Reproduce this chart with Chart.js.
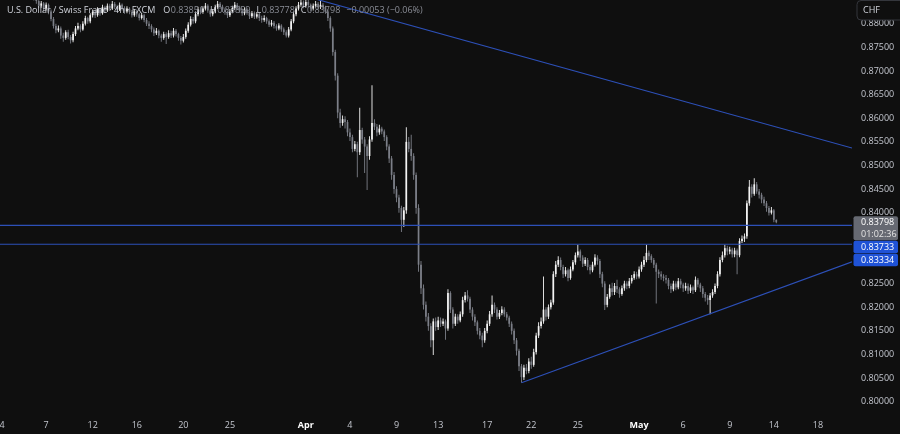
<!DOCTYPE html>
<html><head><meta charset="utf-8">
<script src="https://cdn.jsdelivr.net/npm/chart.js@4.4.1/dist/chart.umd.min.js"></script>
<style>html,body{margin:0;padding:0;background:#0f0f0f;overflow:hidden}canvas{display:block}</style>
</head><body>
<canvas id="c" width="900" height="434"></canvas>
<script>
// ---- data (USD/CHF 4h candles, index = candle number) ----
const opens = [
0.8928,0.8920,0.8912,0.8905,0.8898,0.8902,0.8893,0.8885,0.8890,0.8880,
0.8872,0.8868,0.8875,0.8862,0.8855,0.8848,0.8838,0.8843,0.8832,0.8840,
0.8826,0.8810,0.8795,0.8786,0.8790,0.8775,0.8770,0.8782,0.8772,0.8765,
0.8778,0.8790,0.8795,0.8788,0.8800,0.8812,0.8805,0.8818,0.8825,0.8818,
0.8830,0.8822,0.8835,0.8828,0.8838,0.8832,0.8842,0.8836,0.8830,0.8840,
0.8833,0.8826,0.8832,0.8825,0.8818,0.8826,0.8820,0.8812,0.8818,0.8808,
0.8800,0.8795,0.8788,0.8780,0.8785,0.8775,0.8770,0.8778,0.8772,0.8780,
0.8775,0.8785,0.8778,0.8770,0.8764,0.8772,0.8785,0.8798,0.8810,0.8805,
0.8820,0.8830,0.8825,0.8832,0.8838,0.8828,0.8820,0.8826,0.8835,0.8842,
0.8836,0.8830,0.8825,0.8818,0.8826,0.8833,0.8840,0.8834,0.8828,0.8822,
0.8830,0.8824,0.8816,0.8822,0.8815,0.8820,0.8812,0.8808,0.8812,0.8805,
0.8798,0.8802,0.8795,0.8790,0.8796,0.8788,0.8782,0.8775,0.8788,0.8805,
0.8820,0.8832,0.8840,0.8845,0.8838,0.8846,0.8840,0.8832,0.8838,0.8842,
0.8835,0.8840,0.8835,0.8826,0.8812,0.8790,0.8740,0.8690,0.8612,0.8590,
0.8598,0.8592,0.8570,0.8560,0.8535,0.8545,0.8528,0.8575,0.8555,0.8540,
0.8520,0.8555,0.8590,0.8582,0.8570,0.8578,0.8572,0.8560,0.8540,0.8515,
0.8480,0.8450,0.8432,0.8410,0.8385,0.8405,0.8550,0.8535,0.8520,0.8480,
0.8410,0.8290,0.8240,0.8205,0.8180,0.8160,0.8130,0.8170,0.8158,0.8172,
0.8165,0.8170,0.8155,0.8230,0.8195,0.8165,0.8180,0.8172,0.8185,0.8215,
0.8225,0.8218,0.8195,0.8180,0.8168,0.8150,0.8140,0.8130,0.8150,0.8165,
0.8185,0.8205,0.8195,0.8180,0.8188,0.8195,0.8185,0.8178,0.8165,0.8150,
0.8130,0.8108,0.8075,0.8052,0.8072,0.8065,0.8085,0.8078,0.8105,0.8140,
0.8160,0.8170,0.8195,0.8180,0.8200,0.8210,0.8270,0.8290,0.8300,0.8285,
0.8270,0.8278,0.8262,0.8280,0.8295,0.8310,0.8318,0.8305,0.8292,0.8300,
0.8285,0.8278,0.8290,0.8305,0.8298,0.8270,0.8250,0.8205,0.8222,0.8240,
0.8232,0.8245,0.8238,0.8228,0.8240,0.8250,0.8245,0.8255,0.8262,0.8270,
0.8265,0.8280,0.8290,0.8300,0.8315,0.8308,0.8300,0.8290,0.8275,0.8270,
0.8265,0.8262,0.8258,0.8245,0.8238,0.8250,0.8242,0.8255,0.8248,0.8240,
0.8245,0.8235,0.8242,0.8236,0.8258,0.8248,0.8240,0.8228,0.8220,0.8215,
0.8225,0.8232,0.8245,0.8270,0.8300,0.8310,0.8325,0.8318,0.8322,0.8312,
0.8320,0.8310,0.8340,0.8345,0.8350,0.8420,0.8455,0.8440,0.8460,0.8445,
0.8438,0.8428,0.8420,0.8410,0.8400,0.8405,0.83851
];
const highs = [
0.8934,0.8925,0.8916,0.8910,0.8908,0.8905,0.8897,0.8895,0.8893,0.8884,
0.8878,0.8880,0.8878,0.8866,0.8860,0.8851,0.8848,0.8846,0.8845,0.8843,
0.8830,0.8814,0.8800,0.8796,0.8794,0.8781,0.8786,0.8787,0.8776,0.8783,
0.8795,0.8802,0.8799,0.8805,0.8817,0.8815,0.8822,0.8830,0.8829,0.8835,
0.8833,0.8840,0.8838,0.8843,0.8842,0.8848,0.8846,0.8840,0.8845,0.8843,
0.8837,0.8837,0.8835,0.8829,0.8831,0.8830,0.8823,0.8823,0.8821,0.8812,
0.8805,0.8799,0.8792,0.8791,0.8788,0.8779,0.8783,0.8782,0.8786,0.8785,
0.8791,0.8789,0.8781,0.8774,0.8778,0.8790,0.8803,0.8816,0.8814,0.8826,
0.8836,0.8834,0.8837,0.8844,0.8841,0.8831,0.8831,0.8840,0.8848,0.8846,
0.8840,0.8834,0.8828,0.8831,0.8838,0.8846,0.8844,0.8838,0.8832,0.8835,
0.8834,0.8827,0.8827,0.8826,0.8825,0.8823,0.8817,0.8818,0.8815,0.8809,
0.8808,0.8806,0.8799,0.8801,0.8799,0.8792,0.8786,0.8793,0.8810,0.8826,
0.8837,0.8846,0.8852,0.8849,0.8851,0.8850,0.8843,0.8843,0.8848,0.8846,
0.8849,0.8844,0.8838,0.8830,0.8816,0.8794,0.8745,0.8695,0.8620,0.8606,
0.8604,0.8596,0.8578,0.8565,0.8552,0.8550,0.8622,0.8580,0.8560,0.8545,
0.8562,0.8670,0.8598,0.8588,0.8586,0.8582,0.8576,0.8564,0.8545,0.8520,
0.8486,0.8456,0.8438,0.8415,0.8412,0.8581,0.8560,0.8565,0.8526,0.8485,
0.8418,0.8298,0.8248,0.8212,0.8188,0.8166,0.8176,0.8178,0.8180,0.8178,
0.8176,0.8174,0.8238,0.8234,0.8200,0.8186,0.8185,0.8191,0.8222,0.8232,
0.8236,0.8222,0.8200,0.8185,0.8172,0.8156,0.8146,0.8156,0.8172,0.8192,
0.8225,0.8210,0.8200,0.8194,0.8202,0.8200,0.8190,0.8182,0.8170,0.8155,
0.8135,0.8112,0.8080,0.8078,0.8080,0.8092,0.8095,0.8112,0.8146,0.8168,
0.8178,0.8265,0.8200,0.8206,0.8216,0.8276,0.8298,0.8308,0.8305,0.8290,
0.8285,0.8282,0.8286,0.8300,0.8316,0.8332,0.8322,0.8310,0.8306,0.8304,
0.8290,0.8296,0.8312,0.8310,0.8302,0.8275,0.8255,0.8228,0.8248,0.8252,
0.8251,0.8258,0.8242,0.8246,0.8256,0.8255,0.8262,0.8268,0.8276,0.8275,
0.8286,0.8296,0.8308,0.8332,0.8320,0.8312,0.8304,0.8294,0.8280,0.8276,
0.8270,0.8268,0.8262,0.8250,0.8256,0.8255,0.8262,0.8260,0.8252,0.8252,
0.8250,0.8248,0.8246,0.8265,0.8262,0.8252,0.8245,0.8232,0.8226,0.8230,
0.8238,0.8250,0.8276,0.8306,0.8318,0.8332,0.8330,0.8328,0.8326,0.8326,
0.8324,0.8346,0.8352,0.8356,0.8426,0.8469,0.8460,0.8473,0.8465,0.8450,
0.8442,0.8434,0.8425,0.8414,0.8412,0.8408,0.83859
];
const lows = [
0.8914,0.8906,0.8899,0.8893,0.8894,0.8887,0.8879,0.8881,0.8874,0.8866,
0.8862,0.8864,0.8857,0.8849,0.8842,0.8833,0.8834,0.8826,0.8828,0.8820,
0.8805,0.8790,0.8780,0.8782,0.8768,0.8762,0.8766,0.8767,0.8758,0.8761,
0.8774,0.8786,0.8782,0.8785,0.8796,0.8800,0.8801,0.8813,0.8812,0.8815,
0.8817,0.8819,0.8823,0.8825,0.8827,0.8829,0.8831,0.8825,0.8827,0.8828,
0.8821,0.8822,0.8820,0.8813,0.8815,0.8815,0.8807,0.8809,0.8803,0.8795,
0.8789,0.8782,0.8774,0.8776,0.8769,0.8762,0.8766,0.8757,0.8768,0.8770,
0.8771,0.8773,0.8764,0.8756,0.8760,0.8768,0.8781,0.8794,0.8800,0.8801,
0.8816,0.8820,0.8821,0.8828,0.8823,0.8815,0.8816,0.8822,0.8831,0.8831,
0.8825,0.8819,0.8812,0.8814,0.8822,0.8829,0.8829,0.8823,0.8817,0.8818,
0.8819,0.8810,0.8812,0.8810,0.8811,0.8806,0.8802,0.8804,0.8800,0.8793,
0.8794,0.8790,0.8785,0.8786,0.8783,0.8776,0.8771,0.8771,0.8784,0.8801,
0.8816,0.8828,0.8836,0.8833,0.8834,0.8835,0.8827,0.8828,0.8834,0.8830,
0.8831,0.8830,0.8821,0.8806,0.8783,0.8732,0.8680,0.8600,0.8580,0.8584,
0.8578,0.8562,0.8552,0.8528,0.8530,0.8475,0.8522,0.8546,0.8484,0.8448,
0.8512,0.8550,0.8575,0.8562,0.8565,0.8566,0.8552,0.8532,0.8505,0.8470,
0.8440,0.8422,0.8400,0.8359,0.8370,0.8398,0.8528,0.8510,0.8470,0.8398,
0.8275,0.8228,0.8195,0.8170,0.8150,0.8115,0.8099,0.8150,0.8152,0.8158,
0.8160,0.8131,0.8150,0.8188,0.8155,0.8160,0.8165,0.8168,0.8180,0.8210,
0.8212,0.8188,0.8172,0.8160,0.8142,0.8132,0.8115,0.8125,0.8145,0.8160,
0.8180,0.8188,0.8174,0.8175,0.8183,0.8180,0.8172,0.8158,0.8142,0.8122,
0.8098,0.8065,0.8040,0.8046,0.8058,0.8060,0.8070,0.8074,0.8100,0.8135,
0.8155,0.8165,0.8172,0.8175,0.8195,0.8205,0.8264,0.8285,0.8278,0.8262,
0.8265,0.8255,0.8258,0.8276,0.8290,0.8305,0.8298,0.8285,0.8287,0.8278,
0.8270,0.8274,0.8286,0.8290,0.8262,0.8242,0.8194,0.8200,0.8218,0.8225,
0.8226,0.8230,0.8220,0.8224,0.8235,0.8238,0.8240,0.8250,0.8258,0.8259,
0.8261,0.8275,0.8285,0.8295,0.8300,0.8294,0.8283,0.8208,0.8262,0.8258,
0.8255,0.8250,0.8238,0.8230,0.8234,0.8236,0.8238,0.8240,0.8232,0.8235,
0.8228,0.8230,0.8228,0.8232,0.8242,0.8232,0.8220,0.8212,0.8205,0.8185,
0.8220,0.8228,0.8240,0.8265,0.8295,0.8305,0.8310,0.8312,0.8305,0.8306,
0.8270,0.8306,0.8336,0.8338,0.8345,0.8415,0.8432,0.8436,0.8440,0.8430,
0.8420,0.8414,0.8402,0.8394,0.8396,0.8380,0.83778
];
const closes = [
0.8920,0.8912,0.8905,0.8898,0.8902,0.8893,0.8885,0.8890,0.8880,0.8872,
0.8868,0.8875,0.8862,0.8855,0.8848,0.8838,0.8843,0.8832,0.8840,0.8826,
0.8810,0.8795,0.8786,0.8790,0.8775,0.8770,0.8782,0.8772,0.8765,0.8778,
0.8790,0.8795,0.8788,0.8800,0.8812,0.8805,0.8818,0.8825,0.8818,0.8830,
0.8822,0.8835,0.8828,0.8838,0.8832,0.8842,0.8836,0.8830,0.8840,0.8833,
0.8826,0.8832,0.8825,0.8818,0.8826,0.8820,0.8812,0.8818,0.8808,0.8800,
0.8795,0.8788,0.8780,0.8785,0.8775,0.8770,0.8778,0.8772,0.8780,0.8775,
0.8785,0.8778,0.8770,0.8764,0.8772,0.8785,0.8798,0.8810,0.8805,0.8820,
0.8830,0.8825,0.8832,0.8838,0.8828,0.8820,0.8826,0.8835,0.8842,0.8836,
0.8830,0.8825,0.8818,0.8826,0.8833,0.8840,0.8834,0.8828,0.8822,0.8830,
0.8824,0.8816,0.8822,0.8815,0.8820,0.8812,0.8808,0.8812,0.8805,0.8798,
0.8802,0.8795,0.8790,0.8796,0.8788,0.8782,0.8775,0.8788,0.8805,0.8820,
0.8832,0.8840,0.8845,0.8838,0.8846,0.8840,0.8832,0.8838,0.8842,0.8835,
0.8840,0.8835,0.8826,0.8812,0.8790,0.8740,0.8690,0.8612,0.8590,0.8598,
0.8592,0.8570,0.8560,0.8535,0.8545,0.8528,0.8575,0.8555,0.8540,0.8520,
0.8555,0.8590,0.8582,0.8570,0.8578,0.8572,0.8560,0.8540,0.8515,0.8480,
0.8450,0.8432,0.8410,0.8385,0.8405,0.8550,0.8535,0.8520,0.8480,0.8410,
0.8290,0.8240,0.8205,0.8180,0.8160,0.8130,0.8170,0.8158,0.8172,0.8165,
0.8170,0.8155,0.8230,0.8195,0.8165,0.8180,0.8172,0.8185,0.8215,0.8225,
0.8218,0.8195,0.8180,0.8168,0.8150,0.8140,0.8130,0.8150,0.8165,0.8185,
0.8205,0.8195,0.8180,0.8188,0.8195,0.8185,0.8178,0.8165,0.8150,0.8130,
0.8108,0.8075,0.8052,0.8072,0.8065,0.8085,0.8078,0.8105,0.8140,0.8160,
0.8170,0.8195,0.8180,0.8200,0.8210,0.8270,0.8290,0.8300,0.8285,0.8270,
0.8278,0.8262,0.8280,0.8295,0.8310,0.8318,0.8305,0.8292,0.8300,0.8285,
0.8278,0.8290,0.8305,0.8298,0.8270,0.8250,0.8205,0.8222,0.8240,0.8232,
0.8245,0.8238,0.8228,0.8240,0.8250,0.8245,0.8255,0.8262,0.8270,0.8265,
0.8280,0.8290,0.8300,0.8315,0.8308,0.8300,0.8290,0.8275,0.8270,0.8265,
0.8262,0.8258,0.8245,0.8238,0.8250,0.8242,0.8255,0.8248,0.8240,0.8245,
0.8235,0.8242,0.8236,0.8258,0.8248,0.8240,0.8228,0.8220,0.8215,0.8225,
0.8232,0.8245,0.8270,0.8300,0.8310,0.8325,0.8318,0.8322,0.8312,0.8320,
0.8310,0.8340,0.8345,0.8350,0.8420,0.8455,0.8440,0.8460,0.8445,0.8438,
0.8428,0.8420,0.8410,0.8400,0.8405,0.83851,0.83798
];

// x axis: candle index of each date label
const xTickIdx    = [0, 18, 37, 55, 74, 93, 124, 142, 161, 178, 198, 216, 235, 260, 278, 297, 315, 333];
const xTickLabels = ['4','7','12','16','20','25','Apr','4','9','13','17','22','25','May','6','9','14','18'];
const monthLabels = ['Apr','May'];
// y axis tick values (0.830 / 0.835 are hidden behind the price tags)
const yTickValues = [0.800,0.805,0.810,0.815,0.820,0.825,0.840,0.845,0.850,0.855,0.860,0.865,0.870,0.875,0.880];

// drawn levels
const levelPrices = [0.83733, 0.83334];
const downTrendIdx = [124, 346.9];
const downTrendPrice = [0.8858, 0.8537];
const upTrendIdx = [212, 346.9];
const upTrendPrice = [0.8040, 0.8296];

const titleText = 'U.S. Dollar / Swiss Franc \u00b7 4h \u00b7 FXCM';
const countdownText = '01:02:36';
const currencyText = 'CHF';

// ---- styling ----
const X_MIN = -0.82, X_MAX = 346.9;
const Y_MIN = 0.79761, Y_MAX = 0.88502;
const BG = '#0f0f0f';
const UP = '#f4f4f4';
const DOWN = '#7c7f88';
const LINE = '#2d50b8';
const AXIS_TXT = '#c3c6ce';
const FONT = '"Open Sans", "Noto Sans", sans-serif';
const FS = 9;

Chart.defaults.font.family = FONT;
Chart.defaults.font.size = FS;

const idx = closes.map((_, i) => i);
const candleColor = closes.map((c, i) => c >= opens[i] ? UP : DOWN);

function lineDs(xs, ys) {
  return { type: 'line', data: xs.map((x, k) => ({ x: x, y: ys[k] })), borderColor: LINE,
           borderWidth: 1.1, pointRadius: 0, fill: false, tension: 0, order: 0 };
}

const bgPlugin = {
  id: 'bg',
  beforeDraw(chart) {
    const c = chart.ctx; c.save(); c.fillStyle = BG; c.fillRect(0, 0, chart.width, chart.height); c.restore();
  }
};

function roundRect(c, x, y, w, h, r) {
  c.beginPath();
  c.moveTo(x + r, y); c.lineTo(x + w - r, y); c.quadraticCurveTo(x + w, y, x + w, y + r);
  c.lineTo(x + w, y + h - r); c.quadraticCurveTo(x + w, y + h, x + w - r, y + h);
  c.lineTo(x + r, y + h); c.quadraticCurveTo(x, y + h, x, y + h - r);
  c.lineTo(x, y + r); c.quadraticCurveTo(x, y, x + r, y); c.closePath();
}

const overlay = {
  id: 'overlay',
  afterDraw(chart) {
    const c = chart.ctx, ys = chart.scales.y, area = chart.chartArea;
    const last = closes.length - 1;
    c.save();
    c.font = FS + 'px ' + FONT;
    c.textBaseline = 'middle';
    // header legend
    let hx = 7; const hy = 10.5;
    c.fillStyle = '#d1d4dc';
    c.fillText(titleText, hx, hy); hx += c.measureText(titleText).width + 8;
    const keys = ['O', 'H', 'L', 'C'];
    const vals = [opens[last], highs[last], lows[last], closes[last]].map(v => v.toFixed(5));
    for (let k = 0; k < keys.length; k++) {
      c.fillStyle = '#d1d4dc'; c.fillText(keys[k], hx, hy); hx += c.measureText(keys[k]).width + 0.5;
      c.fillStyle = '#8a8d96'; c.fillText(vals[k], hx, hy); hx += c.measureText(vals[k]).width + 6;
    }
    const chg = closes[last] - closes[last - 1];
    const pct = chg / closes[last - 1] * 100;
    const chgText = (chg < 0 ? '\u2212' : '+') + Math.abs(chg).toFixed(5) + ' (' + (pct < 0 ? '\u2212' : '+') + Math.abs(pct).toFixed(2) + '%)';
    c.fillStyle = '#8a8d96'; c.fillText(chgText, hx, hy);

    // price tags on the axis
    const bx = area.right + 1.5, bw = 44.5, tx = area.right + 9;
    const yLast = ys.getPixelForValue(closes[last]);
    let top = yLast - 6, h = 24;
    c.fillStyle = '#666972'; roundRect(c, bx, top, bw, h, 2); c.fill();
    c.fillStyle = '#ffffff';
    c.fillText(closes[last].toFixed(5), tx, top + 6);
    c.fillStyle = '#e4e4e4';
    c.fillText(countdownText, tx, top + 18);
    let prevBottom = top + h;
    levelPrices.slice().sort((a, b) => b - a).forEach(p => {
      const py = ys.getPixelForValue(p);
      const bh = 12.5;
      const t = Math.max(py - bh / 2, prevBottom + 0.5);
      c.fillStyle = '#1f52d6'; roundRect(c, bx, t, bw, bh, 2); c.fill();
      c.fillStyle = '#ffffff'; c.fillText(p.toFixed(5), tx, t + bh / 2);
      prevBottom = t + bh;
    });

    // currency box
    c.fillStyle = BG; c.strokeStyle = '#34363c'; c.lineWidth = 1;
    roundRect(c, area.right + 5, 0.5, 50, 19.5, 4); c.fill(); c.stroke();
    c.fillStyle = '#d1d4dc'; c.fillText(currencyText, area.right + 11, 10.5);
    c.restore();
  }
};

new Chart(document.getElementById('c'), {
  type: 'bar',
  data: {
    datasets: [
      lineDs([X_MIN, X_MAX], [levelPrices[0], levelPrices[0]]),
      lineDs([X_MIN, X_MAX], [levelPrices[1], levelPrices[1]]),
      lineDs(downTrendIdx, downTrendPrice),
      lineDs(upTrendIdx, upTrendPrice),
      { label: 'bodies', data: idx.map(i => ({ x: i, y: [opens[i], closes[i]] })), backgroundColor: candleColor,
        barThickness: 1.7, grouped: false, borderWidth: 0, inflateAmount: 0, order: 2 },
      { label: 'wicks', data: idx.map(i => ({ x: i, y: [lows[i], highs[i]] })), backgroundColor: candleColor,
        barThickness: 0.9, grouped: false, borderWidth: 0, inflateAmount: 0, order: 3 }
    ]
  },
  options: {
    responsive: false, animation: false, devicePixelRatio: 1, events: [],
    layout: { padding: 0 },
    plugins: { legend: { display: false }, tooltip: { enabled: false } },
    scales: {
      x: {
        type: 'linear', min: X_MIN, max: X_MAX, offset: false,
        grid: { display: false, drawTicks: false }, border: { display: false },
        afterBuildTicks: s => { s.ticks = xTickIdx.map(v => ({ value: v })); },
        afterFit: s => { s.height = 21; s.paddingLeft = 0; s.paddingRight = 0; },
        ticks: {
          autoSkip: false, maxRotation: 0, minRotation: 0, padding: 7,
          callback: (v, i) => xTickLabels[i],
          color: ctx => monthLabels.includes(xTickLabels[ctx.index]) ? '#ffffff' : AXIS_TXT,
          font: ctx => ({ family: FONT, size: FS, weight: monthLabels.includes(xTickLabels[ctx.index]) ? 'bold' : 'normal' })
        }
      },
      y: {
        position: 'right', min: Y_MIN, max: Y_MAX,
        grid: { display: false, drawTicks: false }, border: { display: false },
        afterBuildTicks: s => { s.ticks = yTickValues.map(v => ({ value: v })); },
        afterFit: s => { s.width = 48; s.paddingTop = 0; s.paddingBottom = 0; },
        ticks: { padding: 9, color: AXIS_TXT, callback: v => v.toFixed(5) }
      }
    }
  },
  plugins: [bgPlugin, overlay]
});
</script>
</body></html>
